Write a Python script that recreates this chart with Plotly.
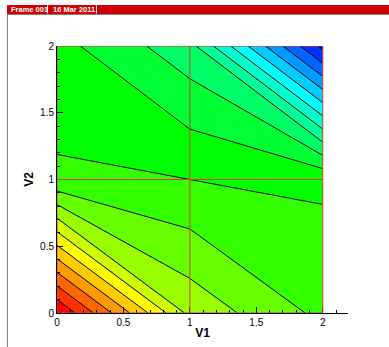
import plotly.graph_objects as go

# ---- data ----
x_nodes = [0, 1, 2]
y_nodes = [0, 1, 2]
z_row_y0 = [0.0, 7.3, 9.26]
z_row_y1 = [9.85, 10.0, 10.17]
z_row_y2 = [10.65, 12.65, 20.3]
level_start, level_end, level_step = 1, 20, 1
tick_vals = [0, 0.5, 1, 1.5, 2]
tick_text = ["0", "0.5", "1", "1.5", "2"]
header_labels = ["Frame 001", "16 Mar 2011"]
x_title, y_title = "V1", "V2"

W, H = 389, 347
L, R, T, B = 57, 41, 46, 34
PW, PH = W - L - R, H - T - B


def px(xp):
    return (xp - L) / PW


def py(yp):
    return (H - B - yp) / PH


rainbow = [[0.0, "rgb(255,0,0)"], [0.25, "rgb(255,255,0)"], [0.5, "rgb(0,255,0)"],
           [0.75, "rgb(0,255,255)"], [1.0, "rgb(0,0,255)"]]

fig = go.Figure()
fig.add_trace(go.Contour(
    x=x_nodes, y=y_nodes, z=[z_row_y0, z_row_y1, z_row_y2],
    contours=dict(start=level_start, end=level_end, size=level_step, coloring="fill"),
    colorscale=rainbow, showscale=False,
    line=dict(color="black", width=1, smoothing=0),
    hoverinfo="skip",
))

shapes = []
mesh_color = "rgb(215,60,50)"
for xv in x_nodes:
    shapes.append(dict(type="line", xref="x", yref="y", x0=xv, x1=xv,
                       y0=min(y_nodes), y1=max(y_nodes),
                       line=dict(color=mesh_color, width=1), layer="above"))
for yv in y_nodes:
    shapes.append(dict(type="line", xref="x", yref="y", y0=yv, y1=yv,
                       x0=min(x_nodes), x1=max(x_nodes),
                       line=dict(color=mesh_color, width=1), layer="above"))

# header bar & frame border
shapes.append(dict(type="rect", xref="paper", yref="paper", x0=px(7), x1=px(W + 2),
                   y0=py(14), y1=py(5), fillcolor="rgb(208,0,0)", line=dict(width=0)))
shapes.append(dict(type="line", xref="paper", yref="paper", x0=px(7), x1=px(W + 2),
                   y0=py(14.5), y1=py(14.5), line=dict(color="rgb(128,128,128)", width=1)))
shapes.append(dict(type="line", xref="paper", yref="paper", x0=px(7.5), x1=px(7.5),
                   y0=py(14), y1=py(H + 2), line=dict(color="rgb(128,128,128)", width=1)))
for sep in (47.5, 96.5):
    shapes.append(dict(type="line", xref="paper", yref="paper", x0=px(sep), x1=px(sep),
                       y0=py(13.5), y1=py(5.5), line=dict(color="white", width=1)))

annotations = []
for lbl, xp in zip(header_labels, (9, 51)):
    annotations.append(dict(text="<b>" + lbl + "</b>", xref="paper", yref="paper",
                            x=px(xp), y=py(9.8), xanchor="left", yanchor="middle",
                            showarrow=False,
                            font=dict(family="Liberation Sans, Arial", size=7.5, color="white")))

axis_font = dict(family="Liberation Sans, Arial", size=10, color="black")
title_font = dict(family="Liberation Sans, Arial", size=12, color="black")
common = dict(showgrid=False, zeroline=False, showline=True, linecolor="black", linewidth=1,
              ticks="inside", ticklen=6, tickcolor="black", tickwidth=1,
              tickvals=tick_vals, ticktext=tick_text, tickfont=axis_font,
              automargin=False,
              minor=dict(ticks="inside", ticklen=3, dtick=0.1, tickcolor="black", tickwidth=1,
                         showgrid=False))

fig.update_layout(
    width=W, height=H, margin=dict(l=L, r=R, t=T, b=B, pad=0, autoexpand=False),
    paper_bgcolor="white", plot_bgcolor="white", showlegend=False,
    shapes=shapes, annotations=annotations,
    xaxis=dict(range=[0, 2.19], title=dict(text="<b>" + x_title + "</b>", standoff=1,
               font=title_font), **common),
    yaxis=dict(range=[0, 2], title=dict(text="<b>" + y_title + "</b>", standoff=3,
               font=title_font), **common),
)

fig.write_html("out.html", config={"displayModeBar": False, "staticPlot": True},
               post_script="document.body.style.margin='0';document.body.style.overflow='hidden';")
